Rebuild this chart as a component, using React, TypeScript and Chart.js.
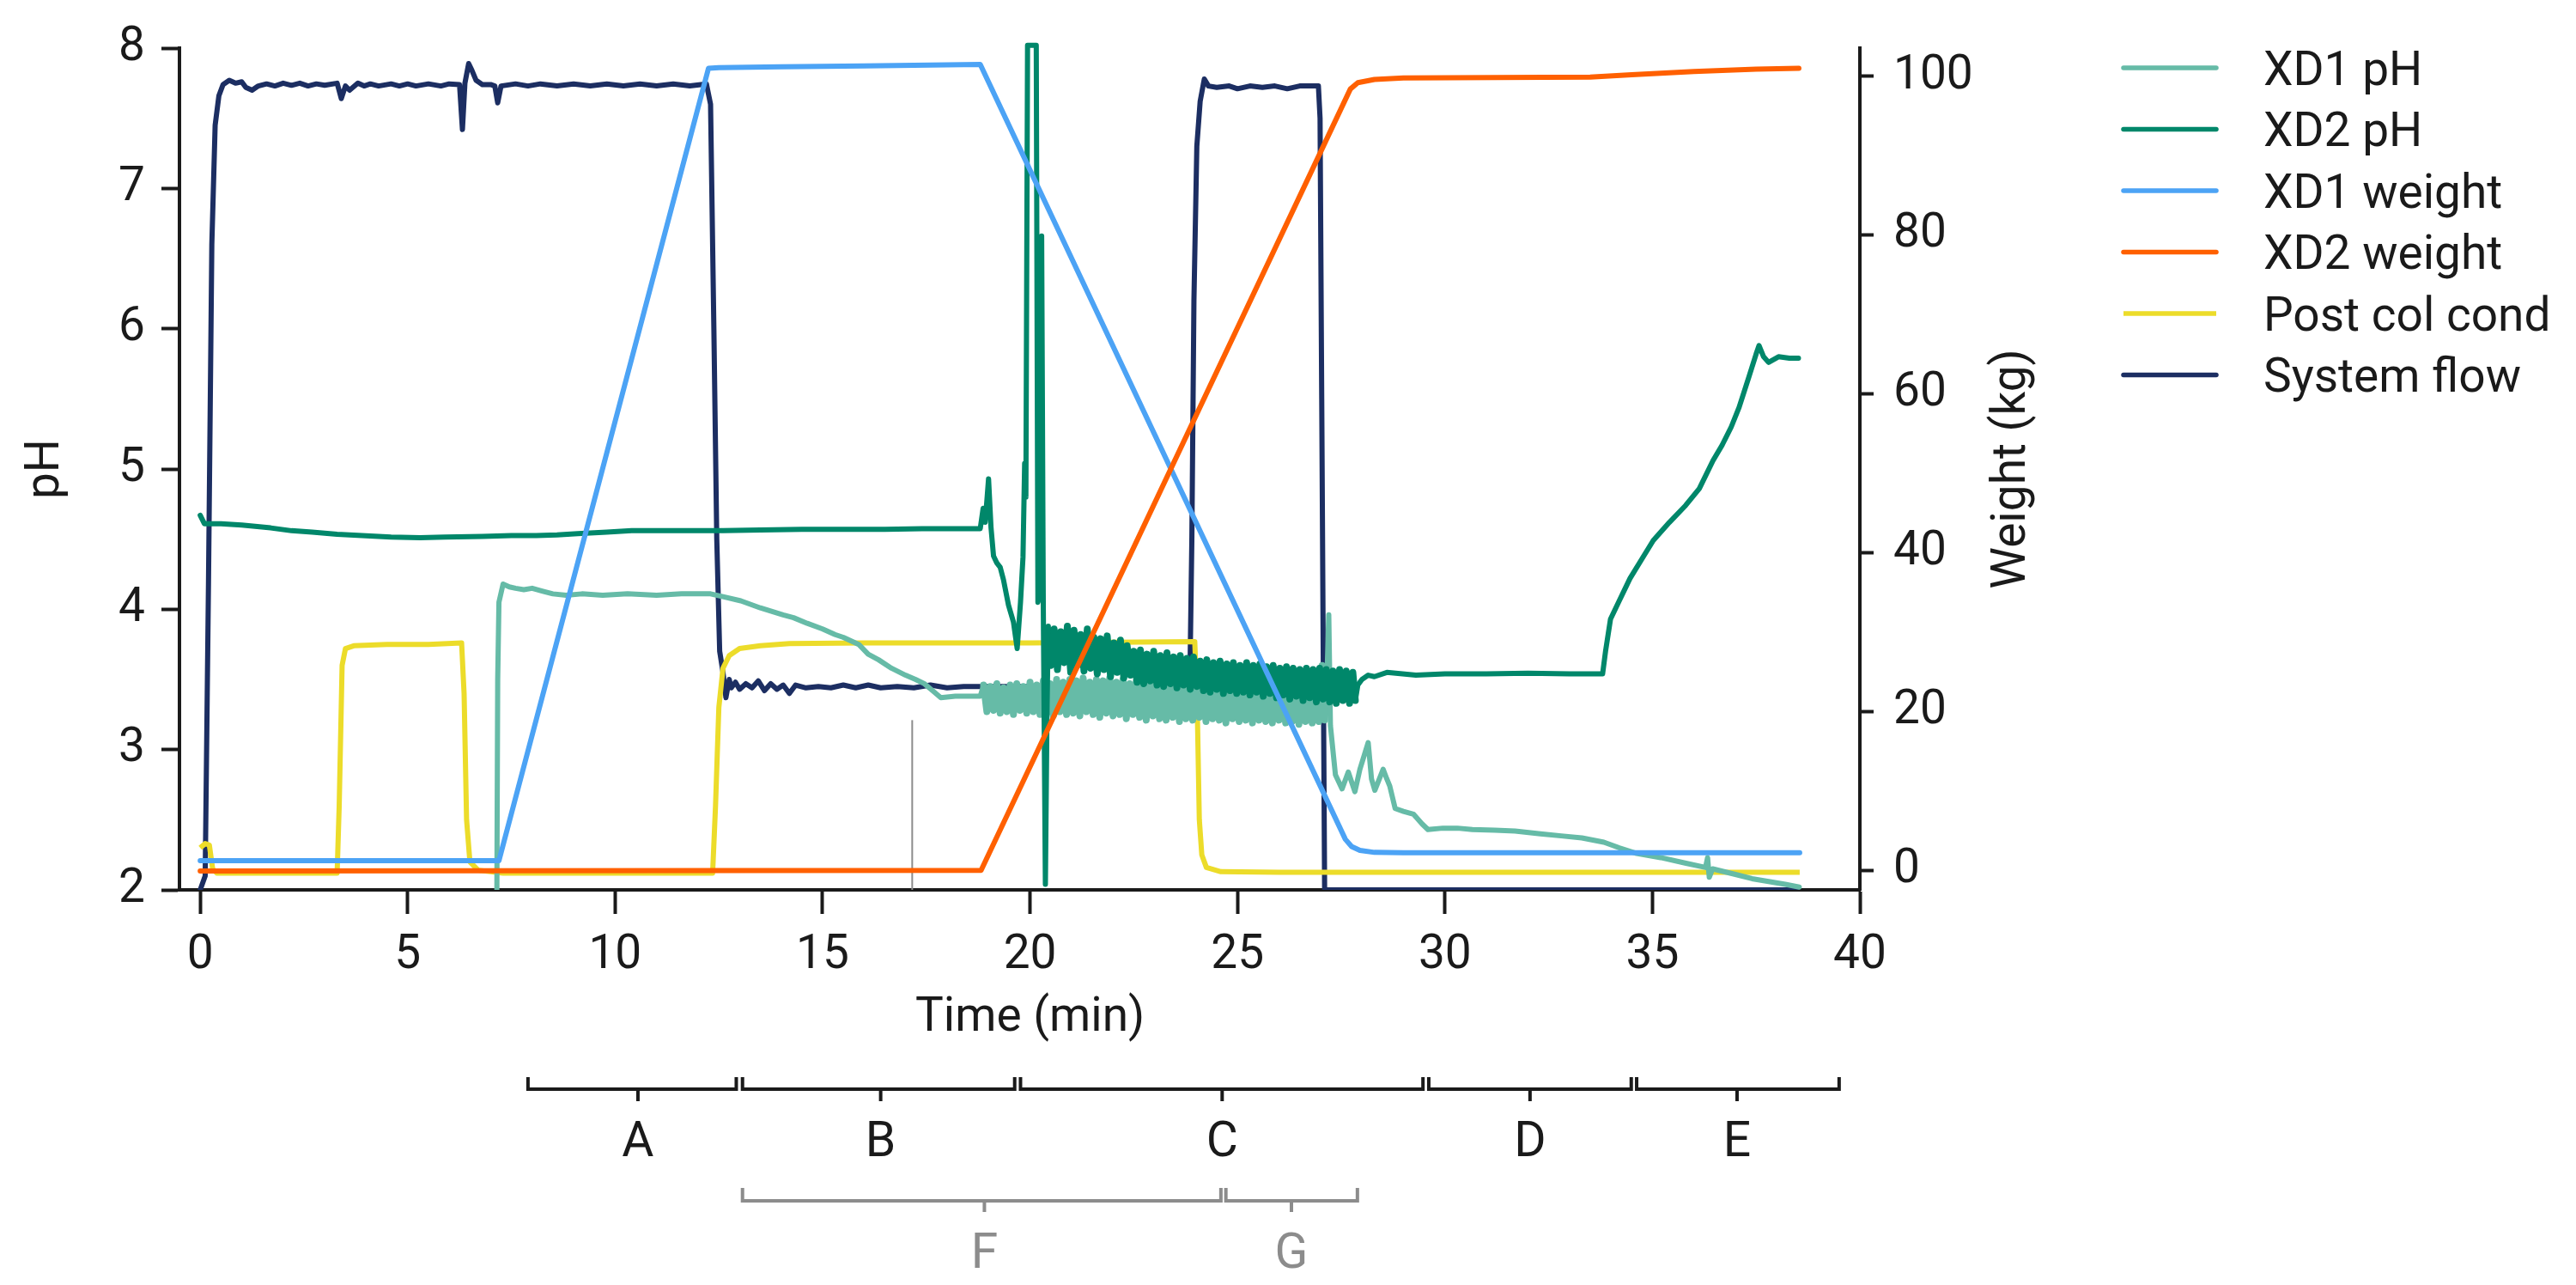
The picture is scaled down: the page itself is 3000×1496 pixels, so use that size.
import React, { useEffect, useRef } from 'react';
import { Chart, registerables } from 'chart.js';

Chart.register(...registerables);

// ---------- tick values ----------
const xTickValues = [0, 5, 10, 15, 20, 25, 30, 35, 40];
const phTickValues = [2, 3, 4, 5, 6, 7, 8];
const weightTickValues = [0, 20, 40, 60, 80, 100];

// ---------- series labels / colours ----------
const seriesNames = ['XD1 pH', 'XD2 pH', 'XD1 weight', 'XD2 weight', 'Post col cond', 'System flow'];
const seriesColors = ['#66bba7', '#00876a', '#4ca3f5', '#ff6000', '#ecdc2a', '#1c2e62'];

// ---------- data: [time (min), value] ----------
const xd1Ph: [number, number][] = [
  [7.15, 2.0], [7.17, 3.5], [7.2, 4.05], [7.3, 4.18], [7.45, 4.16], [7.6, 4.15], [7.8, 4.14], [8.0, 4.15], [8.24, 4.13],
  [8.5, 4.11], [8.82, 4.1], [9.2, 4.11], [9.7, 4.1], [10.3, 4.11], [11.0, 4.1], [11.6, 4.11], [12.3, 4.11], [12.6, 4.09],
  [13.03, 4.06], [13.5, 4.01], [14.05, 3.96], [14.3, 3.94], [14.63, 3.9], [15.0, 3.86], [15.3, 3.82], [15.5, 3.8], [15.87, 3.75], [16.1, 3.68],
  [16.35, 3.64], [16.66, 3.58], [17.0, 3.53], [17.24, 3.5], [17.45, 3.47], [17.65, 3.42], [17.85, 3.37], [18.2, 3.38], [18.8, 3.38],
  [18.88, 3.46], [18.96, 3.27], [19.04, 3.45], [19.12, 3.28], [19.2, 3.47], [19.28, 3.26], [19.36, 3.44], [19.44, 3.27],
  [19.52, 3.46], [19.6, 3.25], [19.68, 3.47], [19.76, 3.28], [19.84, 3.45], [19.92, 3.26], [20.0, 3.48], [20.08, 3.27],
  [20.16, 3.46], [20.24, 3.25], [20.32, 3.49], [20.4, 3.26], [20.48, 3.47], [20.56, 3.24], [20.64, 3.5], [20.72, 3.27],
  [20.8, 3.48], [20.88, 3.25], [20.96, 3.5], [21.04, 3.26], [21.12, 3.49], [21.2, 3.24], [21.28, 3.51], [21.36, 3.27],
  [21.44, 3.48], [21.52, 3.25], [21.6, 3.5], [21.68, 3.23], [21.76, 3.49], [21.84, 3.26], [21.92, 3.51], [22.0, 3.24],
  [22.08, 3.48], [22.16, 3.25], [22.24, 3.5], [22.32, 3.22], [22.4, 3.47], [22.48, 3.25], [22.56, 3.49], [22.64, 3.23],
  [22.72, 3.47], [22.8, 3.21], [22.88, 3.48], [22.96, 3.24], [23.04, 3.46], [23.12, 3.22], [23.2, 3.48], [23.28, 3.21],
  [23.36, 3.46], [23.44, 3.23], [23.52, 3.47], [23.6, 3.2], [23.68, 3.45], [23.76, 3.22], [23.84, 3.47], [23.92, 3.21],
  [24.0, 3.45], [24.08, 3.23], [24.16, 3.46], [24.24, 3.2], [24.32, 3.44], [24.4, 3.22], [24.48, 3.46], [24.56, 3.21],
  [24.64, 3.45], [24.72, 3.19], [24.8, 3.44], [24.88, 3.22], [24.96, 3.46], [25.04, 3.2], [25.12, 3.44], [25.2, 3.21],
  [25.28, 3.46], [25.36, 3.19], [25.44, 3.45], [25.52, 3.21], [25.6, 3.47], [25.68, 3.2], [25.76, 3.46], [25.84, 3.19],
  [25.92, 3.48], [26.0, 3.21], [26.08, 3.5], [26.16, 3.19], [26.24, 3.52], [26.32, 3.2], [26.4, 3.49], [26.48, 3.18],
  [26.56, 3.53], [26.64, 3.2], [26.72, 3.51], [26.8, 3.19], [26.88, 3.56], [26.96, 3.2], [27.04, 3.6], [27.1, 3.21],
  [27.16, 3.55], [27.2, 3.96], [27.24, 3.17], [27.36, 2.82], [27.52, 2.72], [27.67, 2.84], [27.83, 2.7], [27.95, 2.86],
  [28.15, 3.05], [28.23, 2.79], [28.31, 2.71], [28.51, 2.86], [28.6, 2.79], [28.67, 2.74], [28.8, 2.58], [29.0, 2.56],
  [29.24, 2.54], [29.45, 2.47], [29.59, 2.43], [29.95, 2.44], [30.3, 2.44], [30.66, 2.43], [31.2, 2.425], [31.69, 2.42],
  [32.3, 2.4], [32.8, 2.385], [33.3, 2.37], [33.83, 2.34], [34.2, 2.3], [34.62, 2.26], [35.2, 2.23], [35.81, 2.19],
  [36.28, 2.16], [36.33, 2.23], [36.37, 2.09], [36.45, 2.15], [37.0, 2.11], [37.4, 2.08], [37.8, 2.06], [38.2, 2.04], [38.54, 2.02],
];

const xd2Ph: [number, number][] = [
  [0.0, 4.67], [0.1, 4.61], [0.5, 4.61], [1.0, 4.6], [1.7, 4.58], [2.2, 4.56], [2.7, 4.55], [3.3, 4.535], [3.9, 4.525],
  [4.6, 4.515], [5.3, 4.51], [5.9, 4.515], [6.8, 4.52], [7.5, 4.525], [8.1, 4.525], [8.6, 4.53], [9.1, 4.54], [9.8, 4.55],
  [10.4, 4.56], [11.5, 4.56], [12.6, 4.56], [13.5, 4.565], [14.5, 4.57], [15.5, 4.57], [16.5, 4.57], [17.4, 4.575],
  [18.0, 4.575], [18.8, 4.575], [18.87, 4.72], [18.92, 4.62], [19.0, 4.93], [19.06, 4.58], [19.12, 4.38], [19.2, 4.33],
  [19.28, 4.3], [19.36, 4.21], [19.48, 4.03], [19.6, 3.91], [19.69, 3.72], [19.77, 4.05], [19.83, 4.37], [19.87, 5.04],
  [19.9, 4.8], [19.94, 8.02], [20.05, 8.02], [20.15, 8.02], [20.19, 4.05], [20.24, 4.12], [20.28, 6.66], [20.32, 4.0],
  [20.37, 2.04], [20.41, 3.3], [20.44, 3.88],
  [20.5, 3.6], [20.58, 3.86], [20.66, 3.57], [20.74, 3.84], [20.82, 3.62], [20.9, 3.88], [20.98, 3.55], [21.06, 3.85],
  [21.14, 3.6], [21.22, 3.82], [21.3, 3.56], [21.38, 3.86], [21.46, 3.58], [21.54, 3.8], [21.62, 3.54], [21.7, 3.79],
  [21.78, 3.57], [21.86, 3.81], [21.94, 3.52], [22.02, 3.76], [22.1, 3.55], [22.18, 3.78], [22.26, 3.51], [22.34, 3.74],
  [22.42, 3.53], [22.5, 3.7], [22.58, 3.48], [22.66, 3.71], [22.74, 3.47], [22.82, 3.68], [22.9, 3.49], [22.98, 3.7],
  [23.06, 3.46], [23.14, 3.67], [23.22, 3.45], [23.3, 3.69], [23.38, 3.47], [23.46, 3.66], [23.54, 3.44], [23.62, 3.67],
  [23.7, 3.46], [23.78, 3.65], [23.86, 3.43], [23.94, 3.66], [24.02, 3.45], [24.1, 3.63], [24.18, 3.42], [24.26, 3.64],
  [24.34, 3.41], [24.42, 3.62], [24.5, 3.43], [24.58, 3.63], [24.66, 3.4], [24.74, 3.61], [24.82, 3.42], [24.9, 3.62],
  [24.98, 3.4], [25.06, 3.6], [25.14, 3.41], [25.22, 3.62], [25.3, 3.39], [25.38, 3.6], [25.46, 3.41], [25.54, 3.61],
  [25.62, 3.38], [25.7, 3.59], [25.78, 3.4], [25.86, 3.6], [25.94, 3.37], [26.02, 3.58], [26.1, 3.39], [26.18, 3.59],
  [26.26, 3.36], [26.34, 3.58], [26.42, 3.38], [26.5, 3.57], [26.58, 3.35], [26.66, 3.58], [26.74, 3.37], [26.82, 3.57],
  [26.9, 3.34], [26.98, 3.58], [27.06, 3.36], [27.14, 3.57], [27.22, 3.34], [27.3, 3.56], [27.38, 3.33], [27.46, 3.57],
  [27.54, 3.35], [27.62, 3.56], [27.7, 3.33], [27.78, 3.55], [27.84, 3.35],
  [27.9, 3.46], [28.0, 3.5], [28.15, 3.53], [28.3, 3.52], [28.6, 3.55], [29.3, 3.53], [30.0, 3.54], [31.0, 3.54],
  [32.0, 3.545], [33.0, 3.54], [33.8, 3.54], [33.87, 3.7], [33.99, 3.93], [34.2, 4.06], [34.46, 4.22], [34.75, 4.36],
  [35.02, 4.49], [35.41, 4.62], [35.8, 4.74], [36.13, 4.86], [36.46, 5.06], [36.68, 5.17], [36.9, 5.3], [37.09, 5.44],
  [37.33, 5.66], [37.5, 5.82], [37.57, 5.88], [37.68, 5.8], [37.8, 5.76], [38.04, 5.8], [38.3, 5.79], [38.52, 5.79],
];

const xd1Weight: [number, number][] = [
  [0.0, 1.2], [7.2, 1.2], [12.25, 101.0], [12.5, 101.1], [14.0, 101.2], [16.0, 101.3], [18.8, 101.5],
  [27.6, 3.9], [27.75, 3.0], [27.95, 2.5], [28.3, 2.25], [29.0, 2.2], [38.55, 2.2],
];

const xd2Weight: [number, number][] = [
  [0.0, -0.1], [18.82, 0.0], [27.72, 98.4], [27.9, 99.2], [28.3, 99.6], [29.0, 99.8], [33.5, 99.9],
  [34.5, 100.2], [36.0, 100.6], [37.5, 100.9], [38.53, 101.0],
];

const postColCond: [number, number][] = [
  [0.0, 2.3], [0.12, 2.33], [0.22, 2.32], [0.3, 2.15], [0.4, 2.12], [1.5, 2.12], [3.3, 2.12], [3.35, 2.6],
  [3.42, 3.6], [3.5, 3.72], [3.7, 3.74], [4.5, 3.75], [5.5, 3.75], [6.3, 3.76], [6.36, 3.4], [6.42, 2.5],
  [6.5, 2.2], [6.7, 2.14], [7.3, 2.12], [12.35, 2.12], [12.42, 2.6], [12.5, 3.3], [12.6, 3.58], [12.75, 3.67],
  [13.0, 3.72], [13.5, 3.74], [14.2, 3.755], [16.0, 3.76], [20.0, 3.76], [23.97, 3.77], [24.03, 3.3],
  [24.08, 2.5], [24.14, 2.25], [24.25, 2.16], [24.6, 2.13], [26.0, 2.125], [38.55, 2.125],
];

const systemFlow: [number, number][] = [
  [0.0, 2.0], [0.12, 2.1], [0.2, 4.2], [0.28, 6.6], [0.36, 7.45], [0.45, 7.66], [0.55, 7.74], [0.7, 7.77],
  [0.85, 7.75], [1.0, 7.76], [1.1, 7.72], [1.25, 7.7], [1.4, 7.73], [1.6, 7.745], [1.8, 7.73], [2.0, 7.75], [2.2, 7.735], [2.4, 7.75], [2.6, 7.73],
  [2.8, 7.745], [3.0, 7.735], [3.3, 7.75], [3.4, 7.64], [3.5, 7.73], [3.6, 7.7], [3.8, 7.75], [3.95, 7.73], [4.1, 7.745], [4.3, 7.73], [4.6, 7.745],
  [4.8, 7.73], [5.0, 7.745], [5.2, 7.73], [5.5, 7.745], [5.8, 7.73], [6.0, 7.745], [6.25, 7.74], [6.32, 7.42], [6.38, 7.75], [6.47, 7.89], [6.55, 7.84], [6.65, 7.77],
  [6.8, 7.74], [7.0, 7.74], [7.1, 7.73], [7.17, 7.61], [7.25, 7.73], [7.6, 7.745], [7.9, 7.73], [8.2, 7.745], [8.6, 7.73], [9.0, 7.745],
  [9.4, 7.73], [9.8, 7.745], [10.2, 7.73], [10.6, 7.745], [11.0, 7.73], [11.4, 7.745], [11.8, 7.73], [12.2, 7.745], [12.3, 7.6], [12.38, 6.0], [12.45, 4.5], [12.52, 3.7],
  [12.6, 3.55], [12.67, 3.37], [12.75, 3.5], [12.8, 3.44], [12.9, 3.48], [13.0, 3.43], [13.15, 3.47], [13.3, 3.44],
  [13.45, 3.49], [13.6, 3.42], [13.75, 3.47], [13.9, 3.43], [14.05, 3.46], [14.2, 3.4], [14.35, 3.46], [14.6, 3.44],
  [14.9, 3.45], [15.2, 3.44], [15.5, 3.46], [15.8, 3.44], [16.1, 3.46], [16.4, 3.44], [16.8, 3.45], [17.2, 3.44],
  [17.6, 3.46], [18.0, 3.44], [18.4, 3.45], [18.9, 3.45], [20.0, 3.45], [21.5, 3.45], [23.0, 3.45], [23.85, 3.45],
  [23.9, 4.5], [23.95, 6.2], [24.02, 7.3], [24.1, 7.62], [24.2, 7.78], [24.3, 7.73], [24.5, 7.72], [24.8, 7.73],
  [25.0, 7.71], [25.3, 7.73], [25.6, 7.72], [25.9, 7.73], [26.2, 7.71], [26.5, 7.73], [26.95, 7.73], [26.99, 7.5],
  [27.03, 5.5], [27.07, 3.5], [27.1, 2.0], [38.5, 2.0],
];

const markerLine: [number, number][] = [[17.16, 2.0], [17.16, 3.21]];

// time windows where the pH probes are noisy (drawn with a heavier stroke)
const xd1NoisyWindow = [18.84, 27.18];
const xd2NoisyWindow = [20.46, 27.86];

// ---------- phase brackets (time in min) ----------
const phaseLabels = ['A', 'B', 'C', 'D', 'E'];
const phaseStart = [7.9, 13.07, 19.77, 29.61, 34.62];
const phaseEnd = [12.92, 19.63, 29.47, 34.49, 39.5];
const phaseCenter = [10.55, 16.4, 24.63, 32.05, 37.04];
const subPhaseLabels = ['F', 'G'];
const subPhaseStart = [13.07, 24.72];
const subPhaseEnd = [24.6, 27.89];
const subPhaseCenter = [18.9, 26.3];

const TEXT = '#1a1a1a';
const GREY = '#8c8c8c';
const FONT = 'Roboto, "Noto Sans", sans-serif';
const LINE_W = 6;
const NOISY_W = 8;

const toXY = (arr: [number, number][]) => arr.map(([x, y]) => ({ x, y }));

const overlayPlugin = {
  id: 'overlay',
  afterDraw(chart: any) {
    const ctx = chart.ctx as CanvasRenderingContext2D;
    const xs = chart.scales.x;
    const area = chart.chartArea;
    const cy = (area.top + area.bottom) / 2;
    ctx.save();
    ctx.fillStyle = TEXT;
    ctx.font = `55px ${FONT}`;
    ctx.textBaseline = 'alphabetic';
    ctx.textAlign = 'center';
    // axis titles
    ctx.fillText('Time (min)', xs.getPixelForValue(20), 1200);
    ctx.save();
    ctx.translate(68, cy);
    ctx.rotate(-Math.PI / 2);
    ctx.fillText('pH', 0, 0);
    ctx.restore();
    ctx.save();
    ctx.translate(2358, cy);
    ctx.rotate(-Math.PI / 2);
    ctx.fillText('Weight (kg)', 0, 0);
    ctx.restore();

    // legend
    seriesNames.forEach((name, i) => {
      const y = 79 + i * 71.5;
      ctx.strokeStyle = seriesColors[i];
      ctx.lineWidth = 5.5;
      ctx.lineCap = name === 'Post col cond' ? 'butt' : 'round';
      ctx.beginPath();
      ctx.moveTo(2473, y);
      ctx.lineTo(2581, y);
      ctx.stroke();
      ctx.fillStyle = TEXT;
      ctx.textAlign = 'left';
      ctx.fillText(name, 2636, y + 19.5);
    });

    // brackets
    const bracket = (t1: number, t2: number, tm: number, yLine: number, endH: number, tickH: number,
      color: string, label: string, labelY: number) => {
      const x1 = xs.getPixelForValue(t1);
      const x2 = xs.getPixelForValue(t2);
      const xm = xs.getPixelForValue(tm);
      ctx.strokeStyle = color;
      ctx.lineWidth = 4;
      ctx.lineCap = 'butt';
      ctx.lineJoin = 'miter';
      ctx.beginPath();
      ctx.moveTo(x1, yLine - endH);
      ctx.lineTo(x1, yLine);
      ctx.lineTo(x2, yLine);
      ctx.lineTo(x2, yLine - endH);
      ctx.stroke();
      ctx.beginPath();
      ctx.moveTo(xm, yLine);
      ctx.lineTo(xm, yLine + tickH);
      ctx.stroke();
      ctx.fillStyle = color;
      ctx.font = `57px ${FONT}`;
      ctx.textAlign = 'center';
      ctx.fillText(label, xm, labelY);
    };
    phaseLabels.forEach((l, i) => bracket(phaseStart[i], phaseEnd[i], phaseCenter[i], 1268, 14, 14, TEXT, l, 1346));
    subPhaseLabels.forEach((l, i) => bracket(subPhaseStart[i], subPhaseEnd[i], subPhaseCenter[i], 1398, 15, 13, GREY, l, 1476));
    ctx.restore();
  },
};

const axisCommon = (tickLength: number, padding: number) => ({
  grid: {
    drawOnChartArea: false,
    drawTicks: true,
    tickLength,
    tickWidth: 4,
    tickColor: TEXT,
  },
  border: { display: true, color: TEXT, width: 4 },
  ticks: {
    color: TEXT,
    font: { family: FONT, size: 55 },
    padding,
    autoSkip: false,
    maxRotation: 0,
  },
});

const noisySegment = (data: [number, number][], win: number[]) => ({
  borderWidth: (c: any) => {
    const a = data[c.p0DataIndex];
    const b = data[c.p1DataIndex];
    return a && b && a[0] >= win[0] && b[0] <= win[1] ? NOISY_W : undefined;
  },
});

export default function App() {
  const canvasRef = useRef<HTMLCanvasElement | null>(null);

  useEffect(() => {
    const canvas = canvasRef.current;
    if (!canvas) return;
    const line = (label: string, data: [number, number][], color: string, yAxisID: string, order: number, extra: any = {}) => ({
      label,
      data: toXY(data),
      borderColor: color,
      backgroundColor: color,
      borderWidth: LINE_W,
      pointRadius: 0,
      pointHoverRadius: 0,
      tension: 0,
      fill: false,
      borderJoinStyle: 'round',
      borderCapStyle: 'round',
      yAxisID,
      order,
      ...extra,
    });

    const chart = new Chart(canvas, {
      type: 'line',
      data: {
        datasets: [
          line(seriesNames[3], xd2Weight, seriesColors[3], 'y1', 1),
          line(seriesNames[2], xd1Weight, seriesColors[2], 'y1', 2),
          line(seriesNames[1], xd2Ph, seriesColors[1], 'y', 3, { clip: false, segment: noisySegment(xd2Ph, xd2NoisyWindow) }),
          line(seriesNames[0], xd1Ph, seriesColors[0], 'y', 4, { segment: noisySegment(xd1Ph, xd1NoisyWindow) }),
          line(seriesNames[4], postColCond, seriesColors[4], 'y', 5, { borderCapStyle: 'butt' }),
          line(seriesNames[5], systemFlow, seriesColors[5], 'y', 6),
          line('marker', markerLine, GREY, 'y', 7, { borderWidth: 2, borderCapStyle: 'butt' }),
        ] as any,
      },
      options: {
        responsive: false,
        animation: false,
        devicePixelRatio: 1,
        events: [],
        parsing: false as any,
        layout: { padding: { top: 49, left: 0, right: 684, bottom: 340 } },
        plugins: {
          legend: { display: false },
          tooltip: { enabled: false },
        },
        scales: {
          x: {
            type: 'linear',
            position: 'bottom',
            min: -0.5,
            max: 40,
            afterBuildTicks: (s: any) => { s.ticks = xTickValues.map((v) => ({ value: v })); },
            afterFit: (s: any) => { s.height = 120; },
            ...axisCommon(28, 16),
          } as any,
          y: {
            type: 'linear',
            position: 'left',
            min: 2,
            max: 8,
            afterBuildTicks: (s: any) => { s.ticks = phTickValues.map((v) => ({ value: v })); },
            afterFit: (s: any) => { s.width = 209; },
            ...axisCommon(21, 19),
          } as any,
          y1: {
            type: 'linear',
            position: 'right',
            min: -2.47,
            max: 103.55,
            afterBuildTicks: (s: any) => { s.ticks = weightTickValues.map((v) => ({ value: v })); },
            afterFit: (s: any) => { s.width = 150; },
            ...axisCommon(16, 23),
          } as any,
        },
      },
      plugins: [overlayPlugin],
    });
    return () => chart.destroy();
  }, []);

  return (
    <div style={{ position: 'fixed', left: 0, top: 0, width: 3000, height: 1496, background: '#ffffff' }}>
      <canvas ref={canvasRef} width={3000} height={1496} style={{ display: 'block', width: 3000, height: 1496 }} />
    </div>
  );
}
